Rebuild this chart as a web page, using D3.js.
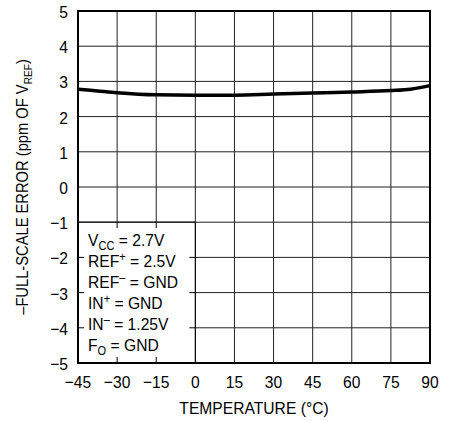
<!DOCTYPE html>
<html>
<head>
<meta charset="utf-8">
<script src="https://cdn.jsdelivr.net/npm/d3@7"></script>
<style>
  body { margin: 0; background: #fff; }
  text { font-family: "Liberation Sans Narrow", "Arial Narrow", "Liberation Sans", sans-serif; fill: #000; }
</style>
</head>
<body>
<div id="chart"></div>
<script>
// temperature (°C) and -full-scale error (ppm of VREF)
let temps = [-45, -37.5, -30, -15, 0, 15, 30, 45, 60, 75, 82.5, 90];
let errs = [2.78, 2.73, 2.68, 2.62, 2.61, 2.61, 2.64, 2.67, 2.70, 2.74, 2.78, 2.88];

let xTicks = [-45, -30, -15, 0, 15, 30, 45, 60, 75, 90];
let yTicks = [-5, -4, -3, -2, -1, 0, 1, 2, 3, 4, 5];

// conditions box, each line: [main, script, scriptType, rest]
let notes = [
    ["V", "CC", "sub", " = 2.7V"],
    ["REF", "+", "sup", " = 2.5V"],
    ["REF", "\u2013", "sup", " = GND"],
    ["IN", "+", "sup", " = GND"],
    ["IN", "\u2013", "sup", " = 1.25V"],
    ["F", "O", "sub", " = GND"]
];

let margin = {top: 11, right: 21, bottom: 58, left: 78},
    W = 451, H = 421,
    width = W - margin.left - margin.right,
    height = H - margin.top - margin.bottom;

// the original uses a narrow face; squeeze the text horizontally
let squeeze = 0.92;

let svg = d3.select("#chart").append("svg")
    .attr("width", W)
    .attr("height", H);

let g = svg.append("g")
    .attr("transform", "translate(" + margin.left + "," + margin.top + ")");

let x = d3.scaleLinear().domain([-45, 90]).range([0, width]);
let y = d3.scaleLinear().domain([-5, 5]).range([height, 0]);

function label(parent, px, py, anchor, size) {
    return parent.append("text")
        .attr("transform", "translate(" + px + "," + py + ") scale(" + squeeze + ",1)")
        .attr("text-anchor", anchor)
        .attr("font-size", size);
}

// grid
g.selectAll(".vgrid").data(xTicks.slice(1, -1)).enter().append("line")
    .attr("x1", d => x(d)).attr("x2", d => x(d))
    .attr("y1", 0).attr("y2", height)
    .attr("stroke", "#222").attr("stroke-width", 1);

g.selectAll(".hgrid").data(yTicks.slice(1, -1)).enter().append("line")
    .attr("x1", 0).attr("x2", width)
    .attr("y1", d => y(d)).attr("y2", d => y(d))
    .attr("stroke", "#222").attr("stroke-width", 1);

// the curve
let line = d3.line()
    .x((d, i) => x(temps[i]))
    .y(d => y(d))
    .curve(d3.curveMonotoneX);

g.append("path")
    .datum(errs)
    .attr("d", line)
    .attr("fill", "none")
    .attr("stroke", "#000")
    .attr("stroke-width", 3.5);

// white conditions box, covering the grid in the lower left
let boxX1 = x(0), boxY0 = y(-1);
g.append("rect")
    .attr("x", 0).attr("y", boxY0)
    .attr("width", boxX1).attr("height", height - boxY0)
    .attr("fill", "#fff")
    .attr("stroke", "#000").attr("stroke-width", 1.2);

// short inner ticks still visible inside the box
let tk = 6;
let innerX = xTicks.filter(d => d > -45 && d < 0),
    innerY = yTicks.filter(d => d > -5 && d < -1);
g.selectAll(".btick").data(innerX).enter().append("line")
    .attr("x1", d => x(d)).attr("x2", d => x(d))
    .attr("y1", height).attr("y2", height - tk)
    .attr("stroke", "#000");
g.selectAll(".ttick").data(innerX).enter().append("line")
    .attr("x1", d => x(d)).attr("x2", d => x(d))
    .attr("y1", boxY0).attr("y2", boxY0 + tk)
    .attr("stroke", "#000");
g.selectAll(".ltick").data(innerY).enter().append("line")
    .attr("x1", 0).attr("x2", tk)
    .attr("y1", d => y(d)).attr("y2", d => y(d))
    .attr("stroke", "#000");
g.selectAll(".rtick").data(innerY).enter().append("line")
    .attr("x1", boxX1).attr("x2", boxX1 - tk)
    .attr("y1", d => y(d)).attr("y2", d => y(d))
    .attr("stroke", "#000");

// notes text
notes.forEach(function(n, i) {
    let t = label(g, 10, boxY0 + 24 + i * 21, "start", 17);
    t.append("tspan").text(n[0]);
    let shift = n[2] === "sub" ? 4 : -6;
    t.append("tspan").attr("dy", shift).attr("font-size", 12).text(n[1]);
    t.append("tspan").attr("dy", -shift).text(n[3]);
});

// plot frame
g.append("rect")
    .attr("x", 0).attr("y", 0)
    .attr("width", width).attr("height", height)
    .attr("fill", "none")
    .attr("stroke", "#000").attr("stroke-width", 2);

// tick labels
let fmt = d3.format("");
xTicks.forEach(function(d) {
    label(g, x(d), height + 25, "middle", 17).text(fmt(d));
});
yTicks.forEach(function(d) {
    label(g, -10, y(d) + 7, "end", 17).text(fmt(d));
});

// axis titles
label(g, width / 2, height + 51, "middle", 17).text("TEMPERATURE (\u00B0C)");

let yt = svg.append("text")
    .attr("transform", "translate(28," + (margin.top + height / 2) + ") rotate(-90) scale(" + squeeze + ",1)")
    .attr("text-anchor", "middle")
    .attr("font-size", 16);
yt.append("tspan").text("\u2013FULL-SCALE ERROR (ppm OF V");
yt.append("tspan").attr("dy", 4).attr("font-size", 11).text("REF");
yt.append("tspan").attr("dy", -4).text(")");
</script>
</body>
</html>
